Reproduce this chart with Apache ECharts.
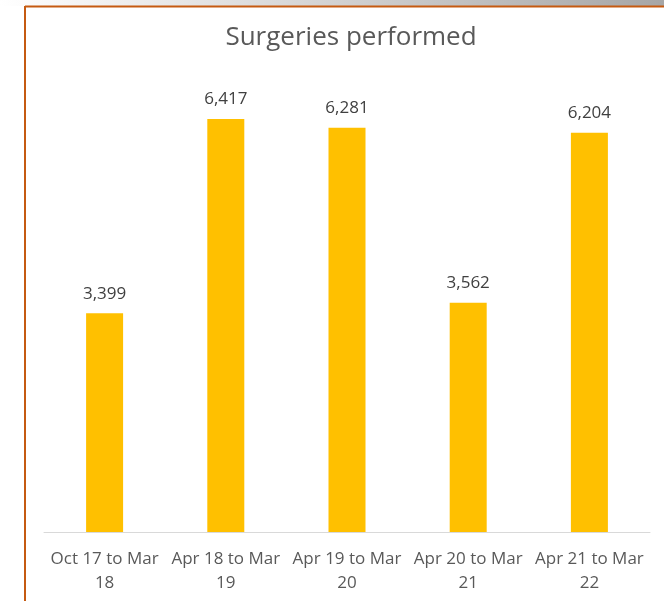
<!DOCTYPE html>
<html>
<head>
<meta charset="utf-8">
<script src="https://cdn.jsdelivr.net/npm/echarts@6/dist/echarts.min.js"></script>
<style>
  html, body { margin: 0; padding: 0; background: #fff; }
  #chart { width: 664px; height: 601px; }
</style>
</head>
<body>
<div id="chart"></div>
<script>
var categories = ['Oct 17 to Mar\n18', 'Apr 18 to Mar\n19', 'Apr 19 to Mar\n20', 'Apr 20 to Mar\n21', 'Apr 21 to Mar\n22'];
var surgeries = [3399, 6417, 6281, 3562, 6204];

var myChart = echarts.init(document.getElementById('chart'));
var font = '"Open Sans", "Noto Sans", sans-serif';

var option = {
  animation: false,
  title: {
    text: 'Surgeries performed',
    left: 346,
    textAlign: 'center',
    top: 20,
    textStyle: { fontFamily: font, fontSize: 26, fontWeight: 'normal', color: '#595959' }
  },
  // frame of the original screenshot: grey strip, orange edges
  graphic: [
    {
      type: 'rect',
      shape: { x: 0, y: 0, width: 664, height: 6 },
      style: {
        fill: new echarts.graphic.LinearGradient(0, 0, 1, 0, [
          { offset: 0, color: '#ffffff' },
          { offset: 1, color: '#a6a6a6' }
        ])
      },
      silent: true
    },
    {
      type: 'line',
      shape: { x1: 25, y1: 6.5, x2: 664, y2: 6.5 },
      style: { stroke: '#c55a11', lineWidth: 2 },
      silent: true
    },
    {
      type: 'line',
      shape: { x1: 25, y1: 6, x2: 25, y2: 601 },
      style: { stroke: '#c55a11', lineWidth: 2 },
      silent: true
    }
  ],
  grid: { left: 44, right: 14, top: 81.5, bottom: 69 },
  xAxis: {
    type: 'category',
    data: categories,
    axisTick: { show: false },
    axisLine: { lineStyle: { color: '#d9d9d9', width: 1 } },
    axisLabel: {
      interval: 0,
      margin: 15,
      lineHeight: 24,
      fontFamily: font,
      fontSize: 17,
      color: '#595959'
    }
  },
  yAxis: {
    type: 'value',
    min: 0,
    max: 7000,
    show: false,
    splitLine: { show: false }
  },
  series: [
    {
      type: 'bar',
      data: surgeries,
      barWidth: 37,
      itemStyle: { color: '#ffc000' },
      label: {
        show: true,
        position: 'top',
        distance: 11,
        fontFamily: font,
        fontSize: 17,
        color: '#404040',
        formatter: function (p) { return p.value.toLocaleString('en-US'); }
      }
    }
  ]
};

myChart.setOption(option);
</script>
</body>
</html>
